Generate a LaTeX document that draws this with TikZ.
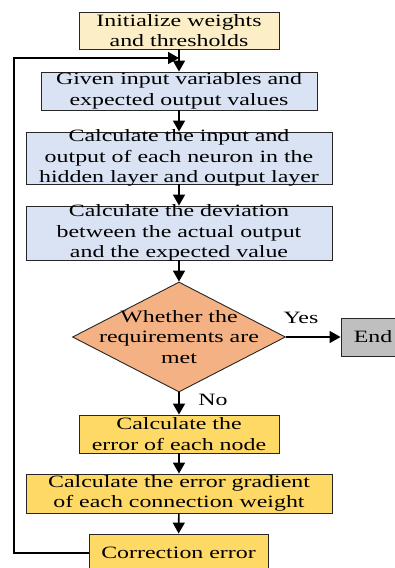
\documentclass[tikz,border=0pt]{standalone}
\usepackage{fontspec}
\setmainfont{Liberation Serif}[FakeStretch=1.38]
\usetikzlibrary{arrows.meta, shapes.geometric, positioning, calc}
\definecolor{initY}{HTML}{FCEFC8}
\definecolor{stepB}{HTML}{DAE3F3}
\definecolor{judgeO}{HTML}{F4B183}
\definecolor{errY}{HTML}{FFD966}
\definecolor{endG}{HTML}{BFBFBF}
\tikzset{
    flowbox/.style={draw=black!85, line width=0.9pt, rectangle, inner xsep=0pt, inner ysep=-15pt,
        align=center, font=\fontsize{17.3}{20.5}\selectfont},
    initbox/.style={flowbox, fill=initY},
    stepbox/.style={flowbox, fill=stepB},
    errbox/.style={flowbox, fill=errY},
    endbox/.style={flowbox, fill=endG},
    judgebox/.style={draw=black!85, line width=0.9pt, diamond, aspect=2, inner xsep=-30pt, inner ysep=-10pt,
        fill=judgeO, align=center, font=\fontsize{17.3}{20.5}\selectfont},
    lbl/.style={inner sep=0pt, font=\fontsize{17.3}{20.5}\selectfont},
    flowarrow/.style={line width=1.6pt, -{Triangle[length=11pt,width=12pt]}}
}
\begin{document}
\begin{tikzpicture}[x=1pt, y=-1pt]
    \useasboundingbox (0,0) rectangle (395,568);
    % main column
    \node[initbox, minimum width=200pt, minimum height=37pt] (init) at (179,30.5) {Initialize weights\\and thresholds};
    \node[stepbox, minimum width=276pt, minimum height=38pt] (input) at (179,91) {Given input variables and\\expected output values};
    \node[stepbox, minimum width=306pt, minimum height=52pt] (calc) at (179,158) {Calculate the input and\\output of each neuron in the\\hidden layer and output layer};
    \node[stepbox, minimum width=306pt, minimum height=54pt] (dev) at (179,233) {Calculate the deviation\\between the actual output\\and the expected value};
    \node[judgebox, minimum width=213pt, minimum height=110pt] (judge) at (179,337) {Whether the\\requirements are\\met};
    \node[endbox, minimum width=64pt, minimum height=38pt] (end) at (373,337) {End};
    \node[errbox, minimum width=200pt, minimum height=38pt] (err) at (179,434) {Calculate the\\error of each node};
    \node[errbox, minimum width=306pt, minimum height=39pt] (grad) at (179,493.5) {Calculate the error gradient\\of each connection weight};
    \node[errbox, minimum width=179pt, minimum height=38pt] (correct) at (178.5,553) {Correction error};
    % labels
    \node[lbl] (yes) at (301,318) {Yes};
    \node[lbl] (no) at (213,400) {No};
    % loop points
    \coordinate (loop) at (179,58);
    \coordinate (back) at (14,58);
    % arrows
    \draw[flowarrow] (init) -- (input);
    \draw[flowarrow] (input) -- (calc);
    \draw[flowarrow] (calc) -- (dev);
    \draw[flowarrow] (dev) -- (judge);
    \draw[flowarrow] (judge) -- (end);
    \draw[flowarrow] (judge) -- (err);
    \draw[flowarrow] (err) -- (grad);
    \draw[flowarrow] (grad) -- (correct);
    \draw[flowarrow] (correct.west) -| (back) -- (loop);
\end{tikzpicture}
\end{document}
